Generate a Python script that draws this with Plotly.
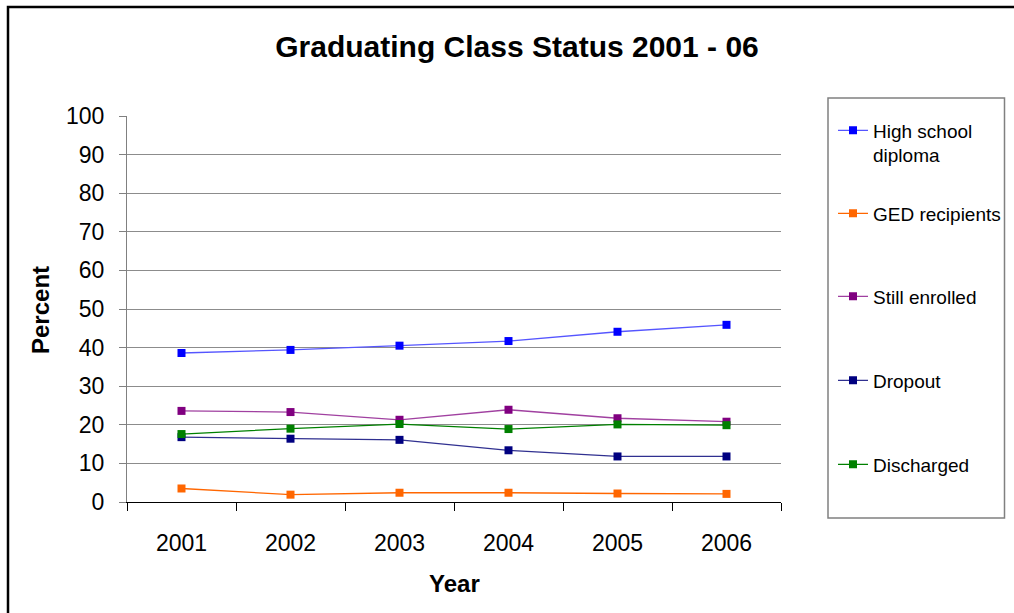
import plotly.graph_objects as go

years = ["2001", "2002", "2003", "2004", "2005", "2006"]
high_school = [38.6, 39.4, 40.5, 41.7, 44.1, 45.9]
ged = [3.5, 1.9, 2.4, 2.4, 2.2, 2.1]
still_enrolled = [23.6, 23.3, 21.3, 23.9, 21.7, 20.8]
dropout = [16.8, 16.4, 16.1, 13.4, 11.8, 11.8]
discharged = [17.6, 19.0, 20.2, 18.9, 20.1, 19.9]

names = ["High school<br>diploma", "GED recipients", "Still enrolled", "Dropout", "Discharged"]
series = [high_school, ged, still_enrolled, dropout, discharged]
colors = ["#0000FF", "#FF6600", "#800080", "#000080", "#008000"]
line_colors = ["#5555FF", "#FF6600", "#A040A0", "#303090", "#008000"]

W, H = 1014, 613
L, R, T, B = 127, 781, 116, 502

def px(x):
    return (x - L) / (R - L)

def py(y):
    return (B - y) / (B - T)

FONT = "Arial, Liberation Sans, sans-serif"

fig = go.Figure()
legend_names = ["legend", "legend2", "legend3", "legend4", "legend5"]
for name, vals, c, lc, lg in zip(names, series, colors, line_colors, legend_names):
    fig.add_trace(go.Scatter(
        x=years, y=vals, name=name, mode="lines+markers",
        line=dict(color=lc, width=1.3),
        marker=dict(symbol="square", size=8, color=c),
        legend=lg,
    ))

legend_y = [131, 214, 297, 381, 465]
legend_common = dict(
    bgcolor="rgba(0,0,0,0)", borderwidth=0,
    font=dict(family=FONT, size=19, color="#000000"),
    xanchor="left", yanchor="top", valign="top",
    itemclick=False, itemdoubleclick=False,
)
layout_legends = {}
for lg, yy in zip(legend_names, legend_y):
    layout_legends[lg] = dict(legend_common, x=px(833), y=py(yy - 19.5))

fig.update_layout(
    width=W, height=H,
    margin=dict(l=L, r=W - R, t=T, b=H - B, autoexpand=False),
    paper_bgcolor="white", plot_bgcolor="white",
    showlegend=True,
    font=dict(family=FONT, color="#000000"),
    title=dict(
        text="<b>Graduating Class Status 2001 - 06</b>",
        x=517 / W, xref="container", xanchor="center",
        y=1 - 46 / H, yanchor="middle",
        font=dict(family=FONT, size=30, color="#000000"),
    ),
    xaxis=dict(
        type="category", range=[-0.5, 5.5],
        tickson="boundaries", ticks="outside", ticklen=8, tickwidth=1,
        tickcolor="#000000", showline=True, linecolor="#000000", linewidth=1,
        showgrid=False, zeroline=False,
        tickfont=dict(family=FONT, size=23, color="#000000"),
        ticklabelstandoff=20,
    ),
    yaxis=dict(
        range=[0, 100], dtick=10, tick0=0,
        ticks="outside", ticklen=7, tickwidth=1, tickcolor="#808080",
        showline=True, linecolor="#808080", linewidth=1,
        showgrid=True, gridcolor="#8C8C8C", gridwidth=1,
        zeroline=False,
        tickfont=dict(family=FONT, size=23, color="#000000"),
        ticklabelstandoff=10,
    ),
    annotations=[
        dict(text="<b>Percent</b>", x=px(40), y=py(310), xref="paper", yref="paper",
             textangle=-90, showarrow=False, xanchor="center", yanchor="middle",
             font=dict(family=FONT, size=24, color="#000000")),
        dict(text="<b>Year</b>", x=px(455), y=py(583), xref="paper", yref="paper",
             showarrow=False, xanchor="center", yanchor="middle",
             font=dict(family=FONT, size=24, color="#000000")),
    ],
    shapes=[
        dict(type="rect", xref="paper", yref="paper",
             x0=px(828), x1=px(1004.5), y0=py(518), y1=py(98),
             line=dict(color="#808080", width=1.5), fillcolor="rgba(0,0,0,0)", layer="below"),
        dict(type="path", xref="paper", yref="paper",
             path=f"M {px(8)} {py(640)} L {px(8)} {py(7)} L {px(1030)} {py(7)}",
             line=dict(color="#000000", width=2.5)),
    ],
    **layout_legends,
)

fig.write_html("out.html")
